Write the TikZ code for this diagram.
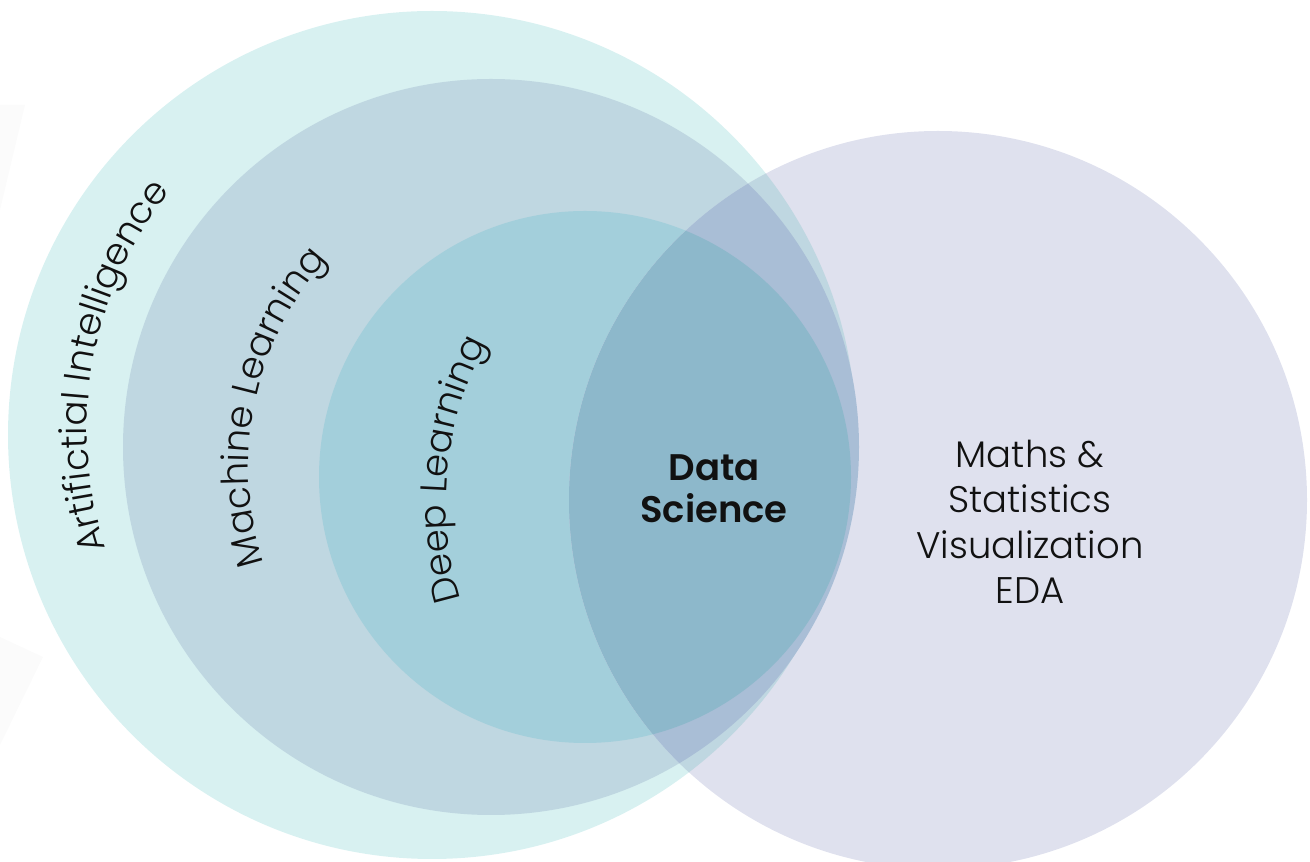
\documentclass[tikz,border=0pt]{standalone}
\usepackage{fontspec}
\setmainfont{Poppins}[UprightFont=* Light, BoldFont=* SemiBold]
\usetikzlibrary{decorations.text}
\definecolor{aiC}{HTML}{D8F1F1}
\definecolor{mlC}{HTML}{BFD7E1}
\definecolor{dlC}{HTML}{A3CFDB}
\definecolor{pC}{HTML}{DFE1EE}
\definecolor{aipC}{HTML}{BFD7E1}
\definecolor{mlpC}{HTML}{A9BED6}
\definecolor{dlpC}{HTML}{8DB8CB}
\definecolor{faintC}{HTML}{FBFBFB}
\definecolor{txtC}{HTML}{111111}
\newcommand\labfont{\fontsize{37}{37}\selectfont}
\tikzset{
  lbl/.style={font=\labfont, text=txtC, anchor=base, inner sep=0pt},
  arclbl/.style={decorate, decoration={text along path, text align=center, text={|\labfont\color{txtC}|#1}}}
}
\begin{document}
\begin{tikzpicture}[x=1pt,y=1pt]
\useasboundingbox (0,0) rectangle (1310,862);
\fill[faintC] (0,757) -- (25,757) -- (0,652) -- cycle;
\fill[faintC] (0,225) -- (43,205) -- (0,117) -- cycle;
\coordinate (ai) at (432,427);
\coordinate (ml) at (491,415);
\coordinate (dl) at (585,385);
\coordinate (ds) at (938,362);
\fill[aiC] (ai) circle[radius=424pt];
\fill[mlC] (ml) circle[radius=368pt];
\fill[dlC] (dl) circle[radius=266pt];
\fill[pC] (ds) circle[radius=369pt];
\begin{scope}
\clip (ds) circle[radius=369pt];
\fill[aipC] (ai) circle[radius=424pt];
\fill[mlpC] (ml) circle[radius=368pt];
\fill[dlpC] (dl) circle[radius=266pt];
\end{scope}
\path[arclbl={Artifictial Intelligence}] (469,432.4) ++(214.8:382pt) arc[start angle=214.8, end angle=124.8, radius=382pt];
\path[arclbl={Machine Learning}] (557.5,396) ++(213.2:309pt) arc[start angle=213.2, end angle=123.2, radius=309pt];
\path[arclbl={Deep Learning}] (776,359) ++(214.1:330pt) arc[start angle=214.1, end angle=134.1, radius=330pt];
\node[lbl, font=\labfont\bfseries] (d1) at (714,381) {Data};
\node[lbl, font=\labfont\bfseries] (d2) at (714,339) {Science};
\node[lbl] (m1) at (1030,394) {Maths \&};
\node[lbl] (m2) at (1030,349) {Statistics};
\node[lbl] (m3) at (1030,303) {Visualization};
\node[lbl] (m4) at (1030,258) {EDA};
\end{tikzpicture}
\end{document}
